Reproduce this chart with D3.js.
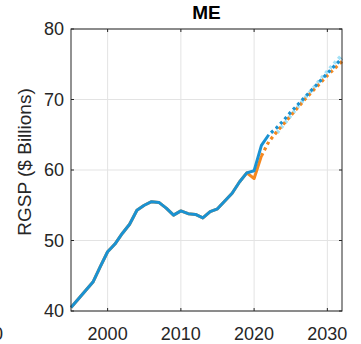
<!DOCTYPE html>
<html>
<head>
<meta charset="utf-8">
<script src="https://cdn.jsdelivr.net/npm/d3@7"></script>
<style>
  html, body { margin: 0; padding: 0; background: #fff; }
  svg { display: block; font-family: "Liberation Sans", Arial, sans-serif; }
</style>
</head>
<body>
<svg id="chart" width="361" height="344"></svg>
<script>
// Real gross state product, Maine ($ billions)
const histYears = d3.range(1995, 2023);
const histValues = [40.5, 41.7, 42.9, 44.1, 46.3, 48.4, 49.5, 51.0, 52.3, 54.3,
                    55.0, 55.5, 55.4, 54.6, 53.6, 54.2, 53.8, 53.7, 53.2, 54.1,
                    54.5, 55.6, 56.7, 58.3, 59.6, 59.9, 63.5, 65.0];

// Alternate history vintage (diverges in 2020)
const altYears = d3.range(1995, 2022);
const altValues = [40.5, 41.7, 42.9, 44.1, 46.3, 48.4, 49.5, 51.0, 52.3, 54.3,
                   55.0, 55.5, 55.4, 54.6, 53.6, 54.2, 53.8, 53.7, 53.2, 54.1,
                   54.5, 55.6, 56.7, 58.3, 59.6, 58.8, 62.0];

// Forecast series
const fcYears = d3.range(2022, 2033);
const fcValues = [65.0, 65.9, 67.0, 68.2, 69.3, 70.4, 71.5, 72.6, 73.7, 74.8, 75.8];

const altFcYears = d3.range(2021, 2033);
const altFcValues = [62.0, 64.0, 65.3, 66.5, 67.7, 68.9, 70.1, 71.2, 72.3, 73.4, 74.4, 75.4];

const lightFcYears = d3.range(2023, 2033);
const lightFcValues = [65.1, 66.4, 67.7, 69.0, 70.3, 71.5, 72.8, 74.0, 75.2, 76.3];

const xTicks = [2000, 2010, 2020, 2030];
const yTicks = [40, 50, 60, 70, 80];

const svg = d3.select("#chart");
const m = { left: 71, right: 342, top: 29, bottom: 311 };

const x = d3.scaleLinear().domain([1995, 2032]).range([m.left, m.right]);
const y = d3.scaleLinear().domain([40, 80]).range([m.bottom, m.top]);

const axisColor = "#262626";
const gridColor = "#e3e3e3";

// grid
svg.append("g").selectAll("line.gx").data(xTicks).join("line")
  .attr("x1", d => x(d)).attr("x2", d => x(d))
  .attr("y1", m.top).attr("y2", m.bottom)
  .attr("stroke", gridColor).attr("stroke-width", 1);
svg.append("g").selectAll("line.gy").data(yTicks).join("line")
  .attr("x1", m.left).attr("x2", m.right)
  .attr("y1", d => y(d)).attr("y2", d => y(d))
  .attr("stroke", gridColor).attr("stroke-width", 1);

// series
const pair = (xs, vs) => xs.map((yr, i) => [yr, vs[i]]);
const line = d3.line().x(d => x(d[0])).y(d => y(d[1]));

const blue = "#1a92d2";
const orange = "#f5881f";
const light = "#a3e1f7";
const dots = "3 3.4";

svg.append("path").datum(pair(altYears, altValues))
  .attr("d", line).attr("fill", "none")
  .attr("stroke", orange).attr("stroke-width", 3).attr("stroke-linejoin", "round");

svg.append("path").datum(pair(lightFcYears, lightFcValues))
  .attr("d", line).attr("fill", "none")
  .attr("stroke", light).attr("stroke-width", 3.6)
  .attr("stroke-dasharray", dots).attr("stroke-dashoffset", -1.5);

svg.append("path").datum(pair(altFcYears, altFcValues))
  .attr("d", line).attr("fill", "none")
  .attr("stroke", orange).attr("stroke-width", 3.2)
  .attr("stroke-dasharray", dots);

svg.append("path").datum(pair(histYears, histValues))
  .attr("d", line).attr("fill", "none")
  .attr("stroke", blue).attr("stroke-width", 3).attr("stroke-linejoin", "round");

svg.append("path").datum(pair(fcYears, fcValues))
  .attr("d", line).attr("fill", "none")
  .attr("stroke", blue).attr("stroke-width", 3.2)
  .attr("stroke-dasharray", dots).attr("stroke-dashoffset", -3);

// axes box
svg.append("rect")
  .attr("x", m.left).attr("y", m.top)
  .attr("width", m.right - m.left).attr("height", m.bottom - m.top)
  .attr("fill", "none").attr("stroke", axisColor).attr("stroke-width", 1);

const tickLen = 3;
const axG = svg.append("g").attr("stroke", axisColor).attr("stroke-width", 1);
xTicks.forEach(t => {
  axG.append("line").attr("x1", x(t)).attr("x2", x(t)).attr("y1", m.bottom).attr("y2", m.bottom - tickLen);
  axG.append("line").attr("x1", x(t)).attr("x2", x(t)).attr("y1", m.top).attr("y2", m.top + tickLen);
});
yTicks.forEach(t => {
  axG.append("line").attr("x1", m.left).attr("x2", m.left + tickLen).attr("y1", y(t)).attr("y2", y(t));
  axG.append("line").attr("x1", m.right).attr("x2", m.right - tickLen).attr("y1", y(t)).attr("y2", y(t));
});

// tick labels
svg.append("g").selectAll("text").data(yTicks).join("text")
  .attr("x", m.left - 7).attr("y", d => y(d)).attr("dy", "0.35em")
  .attr("text-anchor", "end").attr("font-size", 18).attr("fill", axisColor)
  .text(d => d);
svg.append("g").selectAll("text").data(xTicks).join("text")
  .attr("x", d => x(d)).attr("y", 340)
  .attr("text-anchor", "middle").attr("font-size", 18).attr("fill", axisColor)
  .text(d => d);

// neighbouring panel's last year label, cut by the edge
svg.append("text").attr("x", 3).attr("y", 340)
  .attr("text-anchor", "end").attr("font-size", 18).attr("fill", axisColor)
  .text("2030");

// axis label
svg.append("text")
  .attr("transform", "translate(30.5,162) rotate(-90)")
  .attr("text-anchor", "middle").attr("font-size", 19).attr("fill", axisColor)
  .text("RGSP ($ Billions)");

// title
svg.append("text")
  .attr("x", (m.left + m.right) / 2).attr("y", 18.5)
  .attr("text-anchor", "middle").attr("font-size", 19).attr("font-weight", "bold")
  .attr("fill", "#000").text("ME");
</script>
</body>
</html>
